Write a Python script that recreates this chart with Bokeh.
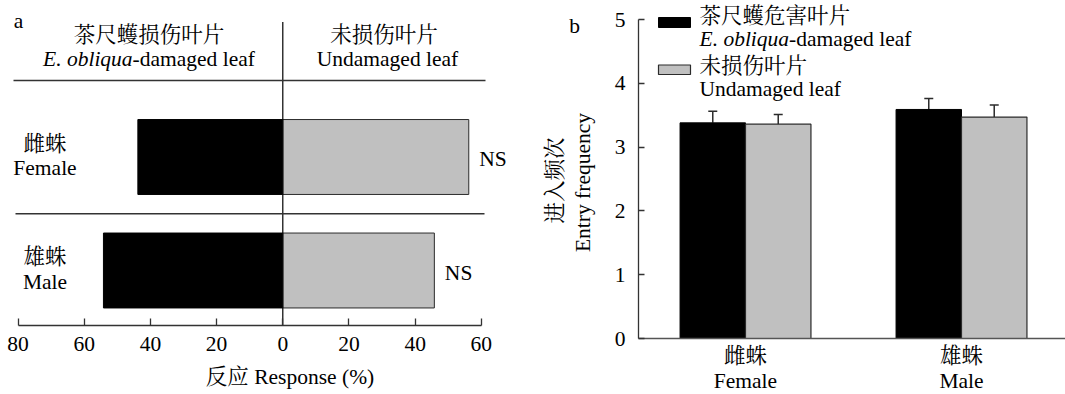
from bokeh.plotting import figure
from bokeh.models import Range1d, FixedTicker, Whisker, TeeHead, ColumnDataSource
from bokeh.layouts import row
from bokeh.embed import file_html
from bokeh.resources import INLINE
from bokeh.core.properties import value
import math

# ---------------- data ----------------
groups_cn = ["雌蛛", "雄蛛"]
groups_en = ["Female", "Male"]
# panel a: response (%)
resp_damaged = [43.8, 54.2]
resp_undamaged = [56.2, 45.8]
resp_sig = ["NS", "NS"]
# panel b: entry frequency (mean, SE)
entry_damaged = [3.38, 3.59]
entry_damaged_se = [0.18, 0.17]
entry_undamaged = [3.36, 3.47]
entry_undamaged_se = [0.15, 0.19]
# ticks
xticks_a = [-80, -60, -40, -20, 0, 20, 40, 60]
xtick_labels_a = ["80", "60", "40", "20", "0", "20", "40", "60"]
yticks_b = [0, 1, 2, 3, 4, 5]
head_dam_cn = "茶尺蠖损伤叶片"
head_und_cn = "未损伤叶片"
head_und_en = "Undamaged leaf"
leg_dam_cn = "茶尺蠖危害叶片"
leg_und_cn = "未损伤叶片"
sp_it = "E. obliqua"
sp_rest = "-damaged leaf"
xlabel_a = "反应 Response (%)"
ylabel_b_cn = "进入频次"
ylabel_b_en = "Entry frequency"

# ---------------- style ----------------
FONT = "'Liberation Serif', 'Noto Serif CJK SC', 'Noto Sans CJK SC', serif"
FSN = 21.5
FS = f"{FSN}px"
BLACK = "#000000"
GRAY = "#c0c0c0"
EDGE = "#2b2b2b"
AXC = "#333333"
IT_W = 4.167 * FSN   # width of italic species name
REST_W = 5.692 * FSN  # width of "-damaged leaf"
W, H = 1065, 394
SPLIT = 523


def txt(p, x, y, text, align="center", baseline="middle", style="normal", angle=0.0, x_offset=0):
    n = len(text) if isinstance(text, list) else 1
    xs = x if isinstance(x, list) else [x] * n
    ys = y if isinstance(y, list) else [y] * n
    ts = text if isinstance(text, list) else [text]
    p.text(x=xs, y=ys, text=ts, text_align=align, text_baseline=baseline, angle=angle,
           x_offset=x_offset, text_font=value(FONT), text_font_size=FS,
           text_font_style=style, text_color="#000000")


def style_axis(a, tick_in, standoff, line_color=AXC):
    a.major_tick_in = tick_in
    a.major_tick_out = 0
    a.minor_tick_in = 0
    a.minor_tick_out = 0
    a.axis_line_color = line_color
    a.axis_line_width = 1.3
    a.major_tick_line_color = line_color
    a.major_tick_line_width = 1.3
    a.major_label_text_font = FONT
    a.major_label_text_font_size = FS
    a.major_label_text_color = "#000000"
    a.major_label_standoff = standoff


# ---------------- panel a ----------------
def ax(px):
    return (px - 282.3) / 3.309


def ay(py):
    return 2 + (156.5 - py) / 113.5


pa = figure(width=SPLIT, height=H,
            x_range=Range1d(ax(0), ax(SPLIT)), y_range=Range1d(ay(H), ay(0)),
            output_backend="svg", toolbar_location=None, y_axis_location=None,
            min_border_left=0, min_border_right=0, min_border_top=0, min_border_bottom=0)
pa.outline_line_color = None
pa.grid.visible = False

rows_a = [2 - i for i in range(len(groups_en))]
pa.hbar(y=rows_a, left=[-v for v in resp_damaged], right=0, height=0.66,
        fill_color=BLACK, line_color=BLACK, line_width=1)
pa.hbar(y=rows_a, left=0, right=resp_undamaged, height=0.66,
        fill_color=GRAY, line_color=EDGE, line_width=1)

# frame lines
pa.segment(x0=[0], y0=[ay(325)], x1=[0], y1=[ay(21.5)], line_color=BLACK, line_width=1.2)
pa.segment(x0=[ax(13)], y0=[ay(80)], x1=[ax(485)], y1=[ay(80)], line_color=AXC, line_width=1.5)
pa.segment(x0=[ax(15)], y0=[1.5], x1=[ax(484)], y1=[1.5], line_color=AXC, line_width=1.5)

xa = pa.xaxis[0]
xa.fixed_location = ay(325)
xa.ticker = FixedTicker(ticks=xticks_a)
xa.major_label_overrides = dict(zip(xticks_a, xtick_labels_a))
xa.bounds = (xticks_a[0], xticks_a[-1])
style_axis(xa, 7, 11)

# headers
txt(pa, ax(148.5), ay(34), head_dam_cn)
sp_left = -(IT_W + REST_W) / 2 + IT_W
txt(pa, ax(148.5), ay(58), sp_it, align="right", style="italic", x_offset=sp_left)
txt(pa, ax(148.5), ay(58), sp_rest, align="left", x_offset=sp_left)
txt(pa, ax(383.5), ay(34), head_und_cn)
txt(pa, ax(387), ay(58), head_und_en)

# row labels
txt(pa, ax(44.5), [r + 13.5 / 113.5 for r in rows_a], groups_cn)
txt(pa, ax(44.5), [r - 11 / 113.5 for r in rows_a], groups_en)
# significance
txt(pa, resp_undamaged, [r - 2 / 113.5 for r in rows_a], resp_sig, align="left", x_offset=10.5)

txt(pa, ax(289.5), ay(376), xlabel_a)
txt(pa, ax(13.3), ay(20), "a", align="left", baseline="alphabetic")


# ---------------- panel b ----------------
def bx(px):
    return 1 + (px - 745) / 216


def by(py):
    return (338 - py) / 63.8


pb = figure(width=W - SPLIT, height=H,
            x_range=Range1d(bx(SPLIT), bx(W)), y_range=Range1d(by(H), by(0)),
            output_backend="svg", toolbar_location=None,
            min_border_left=0, min_border_right=0, min_border_top=0, min_border_bottom=0)
pb.outline_line_color = None
pb.grid.visible = False

xpos = [i + 1 for i in range(len(groups_en))]
bw = 0.303
x_dam = [x - bw / 2 for x in xpos]
x_und = [x + bw / 2 for x in xpos]
pb.vbar(x=x_dam, top=entry_damaged, width=bw, fill_color=BLACK, line_color=BLACK, line_width=1)
pb.vbar(x=x_und, top=entry_undamaged, width=bw, fill_color=GRAY, line_color=EDGE, line_width=1.2)

for xs, m, se in ((x_dam, entry_damaged, entry_damaged_se), (x_und, entry_undamaged, entry_undamaged_se)):
    src = ColumnDataSource(dict(x=xs, lower=m, upper=[a + b for a, b in zip(m, se)]))
    pb.add_layout(Whisker(source=src, base="x", lower="lower", upper="upper", dimension="height",
                          lower_head=None,
                          upper_head=TeeHead(size=9, line_color=EDGE, line_width=1.5),
                          line_color=EDGE, line_width=1.5))

ya = pb.yaxis[0]
ya.fixed_location = bx(638)
ya.ticker = FixedTicker(ticks=yticks_b)
ya.bounds = (yticks_b[0], yticks_b[-1])
style_axis(ya, 6, 13)

xb = pb.xaxis[0]
xb.fixed_location = 0
xb.ticker = FixedTicker(ticks=xpos)
xb.bounds = (bx(638), bx(W))
xb.major_label_overrides = {x: f"{c}\n{e}" for x, c, e in zip(xpos, groups_cn, groups_en)}
style_axis(xb, 0, 5, line_color="#555555")
xb.axis_line_width = 1.5
xb.major_label_text_line_height = 1.05

# legend (manual)
pb.quad(left=[bx(658)], right=[bx(690)], top=[by(17)], bottom=[by(27)],
        fill_color=BLACK, line_color=BLACK)
pb.quad(left=[bx(658)], right=[bx(690)], top=[by(64.5)], bottom=[by(74)],
        fill_color=GRAY, line_color=EDGE, line_width=1.2)
txt(pb, bx(699), by(15), leg_dam_cn, align="left")
txt(pb, bx(699), by(38.5), sp_it, align="left", style="italic")
txt(pb, bx(699), by(38.5), sp_rest, align="left", x_offset=IT_W)
txt(pb, bx(699), by(65), leg_und_cn, align="left")
txt(pb, bx(699), by(88.5), head_und_en, align="left")

# y axis title (two lines, rotated)
txt(pb, bx(554), by(180), ylabel_b_cn, angle=math.pi / 2)
txt(pb, bx(582), by(182), ylabel_b_en, angle=math.pi / 2)
txt(pb, bx(568.7), by(25), "b", align="left", baseline="alphabetic")

layout = row(pa, pb)
open("out.html", "w").write(file_html(layout, INLINE))
